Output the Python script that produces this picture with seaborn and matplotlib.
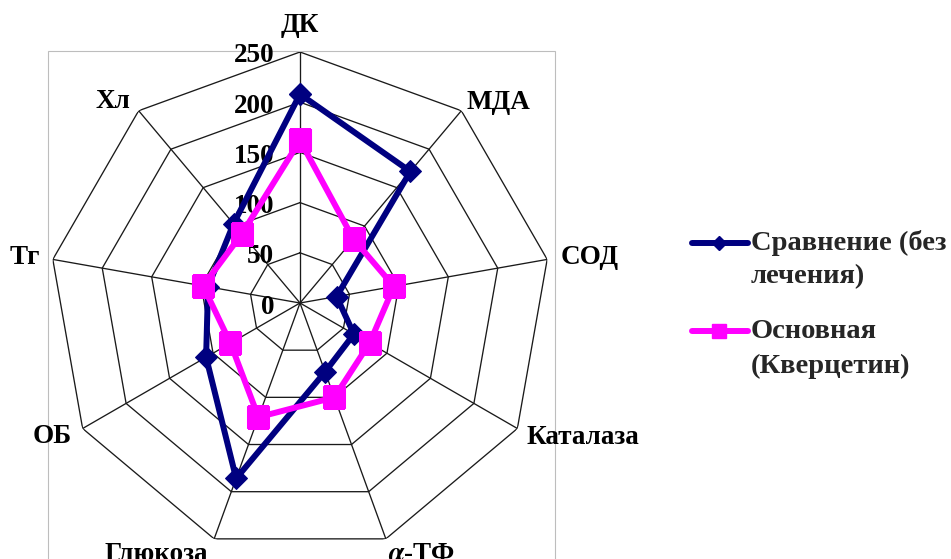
import numpy as np
import pandas as pd
import matplotlib
matplotlib.use("Agg")
import matplotlib.pyplot as plt
from matplotlib.lines import Line2D
from matplotlib.patches import Rectangle
import seaborn as sns

# Indicators around the radar
categories = ["ДК", "МДА", "СОД", "Каталаза", "α-ТФ", "Глюкоза", "ОБ", "Тг", "Хл"]
# Series values
comparison = [208, 171, 37, 62, 73, 186, 108, 93, 103]   # Сравнение (без лечения)
quercetin = [162, 83, 95, 80, 100, 121, 80, 98, 90]      # Основная (Кверцетин)
series_names = ["Сравнение (без\nлечения)", "Основная\n(Кверцетин)"]
radial_ticks = [0, 50, 100, 150, 200, 250]

sns.set_theme(style="white")
plt.rcParams["font.family"] = ["Liberation Serif", "DejaVu Serif"]
plt.rcParams["font.weight"] = "bold"
plt.rcParams["mathtext.fontset"] = "stix"

FS = 19.5
FS_LEG = 20.5
W, H = 951, 559
fig = plt.figure(figsize=(W / 100, H / 100), dpi=100)
fig.patch.set_facecolor("white")

# light plot-area frame
fig.add_artist(Rectangle((48 / W, -0.2), (555 - 48) / W, 0.2 + (H - 51) / H,
                         transform=fig.transFigure, fill=False,
                         edgecolor="#BDBDBD", linewidth=0.8, zorder=0))

R = 251
ax = fig.add_axes([(300 - R) / W, (H - 303 - R) / H, 2 * R / W, 2 * R / H],
                  projection="polar")
ax.set_theta_zero_location("N")
ax.set_theta_direction(-1)
ax.set_ylim(0, radial_ticks[-1])
ax.set_xticks([])
ax.set_yticks([])
ax.grid(False)
ax.spines["polar"].set_visible(False)
ax.patch.set_alpha(0)

n = len(categories)
theta = np.arange(n) * 2 * np.pi / n
theta_closed = np.append(theta, theta[0])

# polygon grid and spokes
for r in radial_ticks[1:]:
    ax.plot(theta_closed, [r] * (n + 1), color="#1a1a1a", lw=0.95, zorder=1)
for t in theta:
    ax.plot([t, t], [0, radial_ticks[-1]], color="#1a1a1a", lw=0.95, zorder=1)

# radial tick labels
for v in radial_ticks:
    ax.annotate(str(v), xy=(0, v), xytext=(-26, -1), textcoords="offset pixels",
                ha="right", va="center_baseline", fontsize=FS, fontweight="bold",
                color="black", zorder=2, annotation_clip=False)

# category labels
label_pos = {
    "ДК": ("center", (0, 26)),
    "МДА": ("left", (5, 8)),
    "СОД": ("left", (13, 2)),
    "Каталаза": ("left", (9, -9)),
    "α-ТФ": ("left", (2, -16)),
    "Глюкоза": ("right", (-6, -16)),
    "ОБ": ("right", (-11, -8)),
    "Тг": ("right", (-13, 2)),
    "Хл": ("right", (-8, 9)),
}
for t, cat in zip(theta, categories):
    ha, off = label_pos[cat]
    txt = r"$\alpha$-ТФ" if cat == "α-ТФ" else cat
    ax.annotate(txt, xy=(t, radial_ticks[-1]), xytext=off,
                textcoords="offset pixels", ha=ha, va="center",
                fontsize=FS, fontweight="bold", color="black",
                annotation_clip=False)

# data series
blue = "#000080"
pink = "#FF00FF"
df = pd.DataFrame({
    "theta": np.concatenate([theta_closed, theta_closed]),
    "value": comparison + comparison[:1] + quercetin + quercetin[:1],
    "series": [series_names[0]] * (n + 1) + [series_names[1]] * (n + 1),
})
styles = [(blue, "D", 11.5), (pink, "s", 16)]
for name, (col, mk, ms) in zip(series_names, styles):
    sub = df[df["series"] == name]
    sns.lineplot(data=sub, x="theta", y="value", ax=ax, sort=False,
                 estimator=None, color=col, lw=4.3, marker=mk, markersize=ms,
                 markeredgecolor=col, markerfacecolor=col, legend=False,
                 zorder=3)
ax.set_xlabel("")
ax.set_ylabel("")
ax.set_ylim(0, radial_ticks[-1])

# legend
legend_rows = [(243, 277), (331, 366)]
for (col, mk, ms), name, (y1, y2) in zip(styles, series_names, legend_rows):
    fig.add_artist(Line2D([692 / W, 748 / W], [1 - y1 / H, 1 - y1 / H],
                          transform=fig.transFigure, color=col, lw=4.3))
    fig.add_artist(Line2D([719 / W], [1 - y1 / H], transform=fig.transFigure,
                          color=col, marker=mk, markersize=ms * 0.65,
                          markeredgecolor=col, markerfacecolor=col))
    first, second = name.split("\n")
    fig.text(751 / W, 1 - y1 / H, first, ha="left", va="center",
             fontsize=FS_LEG, fontweight="bold")
    fig.text(751 / W, 1 - y2 / H, second, ha="left", va="center",
             fontsize=FS_LEG, fontweight="bold")

fig.savefig("out.png", dpi=100)
